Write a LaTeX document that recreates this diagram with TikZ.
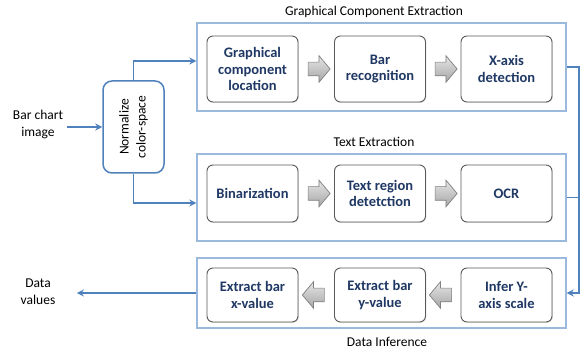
\documentclass[tikz,border=0pt]{standalone}
\usepackage{fontspec}
\setmainfont{Carlito}
\usetikzlibrary{arrows.meta,positioning,calc,shapes.arrows,shadows}
\definecolor{LinkBlue}{RGB}{79,129,189}
\definecolor{FrameBlue}{RGB}{155,185,220}
\definecolor{StepNavy}{RGB}{31,56,100}

\begin{document}
\begin{tikzpicture}[x=1pt,y=-1pt,
    every node/.style={font=\fontsize{13.5}{17}\selectfont},
    frame/.style={draw=FrameBlue,line width=1.4pt,fill=white,minimum width=369pt,inner sep=0pt},
    stepbox/.style={draw=black!65,rounded corners=6pt,line width=0.9pt,fill=white,minimum width=91pt,
      align=center,text=StepNavy,font=\fontsize{14.5}{16.5}\selectfont\bfseries,inner sep=2pt,
      drop shadow={shadow xshift=0.8pt,shadow yshift=-0.8pt,opacity=0.25}},
    blockarrow/.style={single arrow,draw=black!50,line width=0.7pt,top color=black!10,bottom color=black!35,
      minimum height=22pt,inner xsep=0pt,inner ysep=6.5pt,single arrow head extend=6.5pt,single arrow tip angle=100},
    link/.style={draw=LinkBlue,line width=1.6pt},
    flow/.style={link,-{Stealth[length=7pt,width=7pt]}}]
  \useasboundingbox[fill=white] (0,0) rectangle (581,352);

  % the three stages
  \node[frame,minimum height=88pt] (gce) at (381.5,67) {};
  \node[frame,minimum height=87pt] (txe) at (381.5,197.5) {};
  \node[frame,minimum height=70pt] (dinf) at (381.5,293) {};
  \node (gcetitle) at (374,12) {Graphical Component Extraction};
  \node (txetitle) at (374,142) {Text Extraction};
  \node (dinftitle) at (387,342) {Data Inference};

  \node[stepbox,minimum height=66pt] (loc) at (252.5,69) {Graphical\\component\\location};
  \node[stepbox,minimum height=66pt] (bar) at (380,69) {Bar\\recognition};
  \node[stepbox,minimum height=66pt] (xax) at (506.5,69) {X-axis\\detection};
  \node[stepbox,minimum height=57pt] (bin) at (252.5,193.5) {Binarization};
  \node[stepbox,minimum height=57pt] (treg) at (380,193.5) {Text region\\detetction};
  \node[stepbox,minimum height=57pt] (ocr) at (506.5,193.5) {OCR};
  \node[stepbox,minimum height=54pt] (xval) at (252.5,295) {Extract bar\\x-value};
  \node[stepbox,minimum height=54pt] (yval) at (380,295) {Extract bar\\y-value};
  \node[stepbox,minimum height=54pt] (yscale) at (506.5,295) {Infer Y-\\axis scale};

  \node[blockarrow] (a1) at ($(loc.east)!0.5!(bar.west)$) {};
  \node[blockarrow] (a2) at ($(bar.east)!0.5!(xax.west)$) {};
  \node[blockarrow] (a3) at ($(bin.east)!0.5!(treg.west)$) {};
  \node[blockarrow] (a4) at ($(treg.east)!0.5!(ocr.west)$) {};
  \node[blockarrow,shape border rotate=180] (a5) at ($(xval.east)!0.5!(yval.west)$) {};
  \node[blockarrow,shape border rotate=180] (a6) at ($(yval.east)!0.5!(yscale.west)$) {};

  % input side
  \node[align=center] (chart) at (38,124) {Bar chart\\image};
  \node[draw=LinkBlue,line width=1.5pt,rounded corners=9pt,minimum width=61pt,minimum height=92pt] (norm) at (133.5,127) {};
  \node[rotate=90,align=center] (normtxt) at (norm.center) {Normalize\\color-space};
  \node[align=center] (dval) at (38,292) {Data\\values};

  \draw[flow] (chart.east |- norm.west) -- (norm.west);
  \draw[flow] (norm.north) |- ($(gce.west)+(0,-6)$);
  \draw[flow] (norm.south) |- ($(txe.west)+(0,5.5)$);
  \draw[flow,shorten >=18pt] (dinf.west) -- (dval.east |- dinf.west);

  % feedback on the right
  \coordinate (bus) at (579,68);
  \draw[link] (txe.east) -- (txe.east -| bus);
  \draw[flow] (gce.east) -| (bus |- dinf.east) -- (dinf.east);
\end{tikzpicture}
\end{document}
